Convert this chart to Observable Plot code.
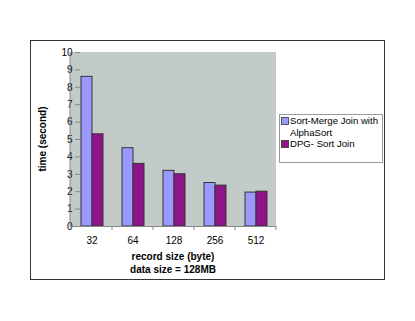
<!DOCTYPE html>
<html>
<head>
<meta charset="utf-8">
<script src="https://cdn.jsdelivr.net/npm/d3@7"></script>
<script src="https://cdn.jsdelivr.net/npm/@observablehq/plot@0.6"></script>
<style>
  html, body { margin: 0; padding: 0; background: #fff; }
  svg { display: block; }
</style>
</head>
<body>
<div id="chart"></div>
<script>
const sizes = ["32", "64", "128", "256", "512"];
const series = ["Sort-Merge Join with AlphaSort", "DPG- Sort Join"];
const sortMergeValues = [8.6, 4.5, 3.2, 2.5, 1.95];
const dpgValues = [5.3, 3.6, 3.0, 2.35, 2.0];
const yTicks = [0, 1, 2, 3, 4, 5, 6, 7, 8, 9, 10];
const colors = ["#9999ff", "#8f1489"];
const legendLines = [["Sort-Merge Join with", "AlphaSort"], ["DPG- Sort Join"]];
const yLabel = "time (second)";
const xLabelLines = ["record size (byte)", "data size = 128MB"];

const data = [];
sizes.forEach((s, i) => {
  data.push({size: s, series: series[0], value: sortMergeValues[i]});
  data.push({size: s, series: series[1], value: dpgValues[i]});
});

const FONT = "'Liberation Sans', Arial, sans-serif";

const chart = Plot.plot({
  width: 415,
  height: 321,
  marginLeft: 70,
  marginRight: 139,
  marginTop: 52,
  marginBottom: 95,
  style: {fontFamily: FONT, fontSize: "10px", background: "transparent"},
  fx: {domain: sizes, paddingInner: 0.44, paddingOuter: 0.22, label: null, axis: null},
  x: {domain: series, padding: 0, axis: null},
  y: {domain: [0, 10], label: null},
  color: {domain: series, range: colors},
  marks: [
    Plot.barY(data, {fx: "size", x: "series", y: "value", fill: "series", stroke: "#333", strokeWidth: 1}),
    Plot.axisFx({anchor: "bottom", tickSize: 0, tickPadding: 10, label: null, fontSize: 10, fill: "#000"}),
    Plot.axisY({ticks: yTicks, tickSize: 5, tickPadding: 3, label: null, fontSize: 10, stroke: "#888", fill: "#000"})
  ]
});

document.getElementById("chart").appendChild(chart);

const svg = d3.select(chart);
const fx = chart.scale("fx");
const y = chart.scale("y");
const x0 = fx.range[0], x1 = fx.range[1];
const yTop = y.apply(10), yBase = y.apply(0);

// plot area background
svg.insert("rect", ":first-child")
  .attr("x", x0).attr("y", yTop).attr("width", x1 - x0).attr("height", yBase - yTop)
  .attr("fill", "#c3cbc8");

// outer chart border
svg.insert("rect", ":first-child")
  .attr("x", 30.5).attr("y", 40.5).attr("width", 354).attr("height", 239)
  .attr("fill", "#fff").attr("stroke", "#333").attr("stroke-width", 1);

// axis lines
svg.append("line").attr("x1", x0).attr("x2", x0).attr("y1", yTop).attr("y2", yBase)
  .attr("stroke", "#888");
svg.append("line").attr("x1", x0).attr("x2", x1).attr("y1", yBase + 0.5).attr("y2", yBase + 0.5)
  .attr("stroke", "#888");
// category boundary ticks
const gap = (fx.step - fx.bandwidth) / 2;
const bounds = sizes.map(s => fx.apply(s) - gap).concat([x1]);
bounds.forEach(b => {
  svg.append("line").attr("x1", b).attr("x2", b).attr("y1", yBase).attr("y2", yBase + 4)
    .attr("stroke", "#888");
});

// axis titles
svg.append("text")
  .attr("transform", `translate(43,${(yTop + yBase) / 2}) rotate(-90)`)
  .attr("text-anchor", "middle").attr("dominant-baseline", "middle")
  .attr("font-weight", "bold").attr("font-size", 10)
  .attr("font-family", FONT).attr("fill", "#000")
  .text(yLabel);
xLabelLines.forEach((t, i) => {
  svg.append("text")
    .attr("x", (x0 + x1) / 2).attr("y", 257 + i * 13)
    .attr("text-anchor", "middle").attr("dominant-baseline", "middle")
    .attr("font-weight", "bold").attr("font-size", 10)
    .attr("font-family", FONT).attr("fill", "#000")
    .text(t);
});

// legend
const lg = svg.append("g").attr("font-family", FONT).attr("font-size", 9.6).attr("text-anchor", "start");
lg.append("rect").attr("x", 279.5).attr("y", 114.5).attr("width", 103).attr("height", 48)
  .attr("fill", "#fff").attr("stroke", "#999");
let lineY = 121;
series.forEach((s, i) => {
  lg.append("rect").attr("x", 281.5).attr("y", lineY - 3.5).attr("width", 7).attr("height", 7)
    .attr("fill", colors[i]).attr("stroke", "#333").attr("stroke-width", 0.8);
  legendLines[i].forEach((t, j) => {
    lg.append("text").attr("x", 290).attr("y", lineY + j * 12)
      .attr("text-anchor", "start")
      .attr("dominant-baseline", "middle").attr("fill", "#000").text(t);
  });
  lineY += legendLines[i].length * 12 - 1;
});
</script>
</body>
</html>
